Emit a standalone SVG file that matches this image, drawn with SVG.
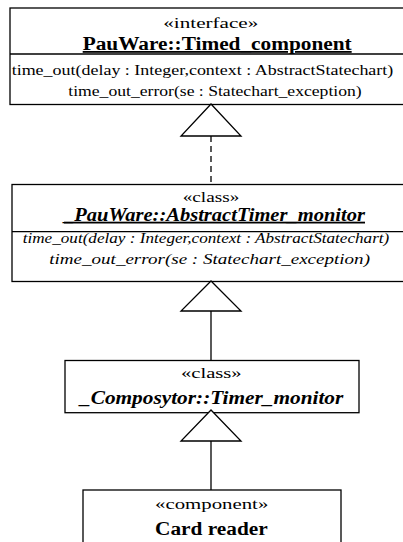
<svg xmlns="http://www.w3.org/2000/svg" width="403" height="542" viewBox="0 0 403 542">
  <style>
    .box { fill: #ffffff; stroke: #000000; stroke-width: 1.3; }
    .sep { stroke: #000000; stroke-width: 1.3; }
    text { font-family: "Liberation Serif", "Times New Roman", serif; fill: #000000; }
    .st { font-size: 15px; }
    .name { font-size: 18px; font-weight: bold; }
    .ul { text-decoration: underline; }
    .it { font-style: italic; }
    .op { font-size: 14.5px; }
    .link { stroke: #000000; stroke-width: 1.3; fill: none; }
    .dash { stroke-dasharray: 6 4; }
    .head { fill: #ffffff; stroke: #000000; stroke-width: 1.3; }
  </style>

  <!-- interface -->
  <g id="timed-component">
    <rect class="box" x="10" y="8" width="402" height="96.5"/>
    <line class="sep" x1="10" y1="54" x2="412" y2="54"/>
    <text class="st" x="163.3" y="28.3" textLength="95" lengthAdjust="spacingAndGlyphs">«interface»</text>
    <text class="name ul" x="82.7" y="50" textLength="269" lengthAdjust="spacingAndGlyphs">PauWare::Timed_component</text>
    <text class="op" x="11.7" y="74.7" textLength="381.6" lengthAdjust="spacingAndGlyphs">time_out(delay : Integer,context : AbstractStatechart)</text>
    <text class="op" x="68.3" y="95.7" textLength="293.4" lengthAdjust="spacingAndGlyphs">time_out_error(se : Statechart_exception)</text>
  </g>

  <!-- abstract class -->
  <g id="abstract-timer-monitor">
    <rect class="box" x="12" y="184.5" width="400" height="97"/>
    <line class="sep" x1="12" y1="231.7" x2="412" y2="231.7"/>
    <text class="st" x="182.7" y="201.7" textLength="56.6" lengthAdjust="spacingAndGlyphs">«class»</text>
    <text class="name ul it" x="64" y="220.7" textLength="301" lengthAdjust="spacingAndGlyphs">_PauWare::AbstractTimer_monitor</text>
    <text class="op it" x="22.7" y="242.7" textLength="366.6" lengthAdjust="spacingAndGlyphs">time_out(delay : Integer,context : AbstractStatechart)</text>
    <text class="op it" x="49.3" y="264" textLength="320.7" lengthAdjust="spacingAndGlyphs">time_out_error(se : Statechart_exception)</text>
  </g>

  <!-- concrete class -->
  <g id="timer-monitor">
    <rect class="box" x="65" y="360.5" width="294" height="52.2"/>
    <text class="st" x="181" y="378.3" textLength="60.7" lengthAdjust="spacingAndGlyphs">«class»</text>
    <text class="name it" x="80" y="404" textLength="263.3" lengthAdjust="spacingAndGlyphs">_Composytor::Timer_monitor</text>
  </g>

  <!-- component -->
  <g id="card-reader">
    <rect class="box" x="83" y="490" width="258" height="70"/>
    <text class="st" x="155" y="509" textLength="113.3" lengthAdjust="spacingAndGlyphs">«component»</text>
    <text class="name" x="155" y="535" textLength="112.7" lengthAdjust="spacingAndGlyphs">Card reader</text>
  </g>

  <!-- realization and generalization links -->
  <g id="connectors">
    <line class="link dash" x1="211" y1="136" x2="211" y2="184.5"/>
    <polygon class="head" points="211,104 181,136 241,136"/>
    <line class="link" x1="211" y1="311" x2="211" y2="360.5"/>
    <polygon class="head" points="211,281 181,311 241,311"/>
    <line class="link" x1="211" y1="441" x2="211" y2="490"/>
    <polygon class="head" points="211,410 181,441 241,441"/>
  </g>
</svg>
